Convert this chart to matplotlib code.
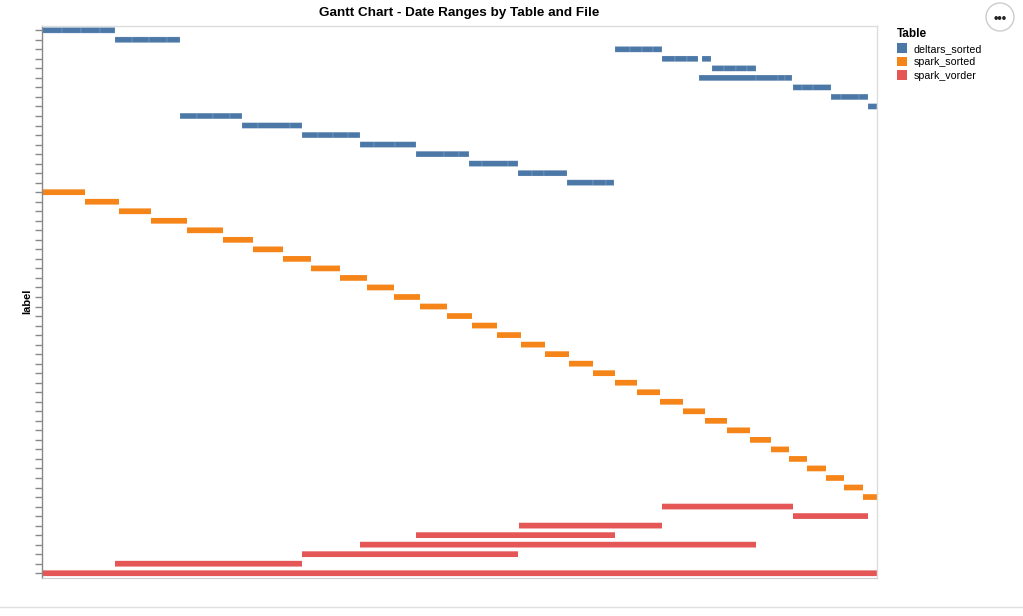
#!/usr/bin/env python3
"""Gantt chart of date ranges per table/file, vega-lite look."""
import matplotlib
matplotlib.use("Agg")
import matplotlib.pyplot as plt
from matplotlib.patches import Ellipse, Patch
from matplotlib.lines import Line2D

# time axis is in days from the first file's start (no x labels shown in the chart)
# deltars_sorted: (row, [segment boundaries]) -- several files share one row
deltars_rows = [0, 1, 2, 3, 3, 4, 5, 6, 7, 8, 9, 10, 11, 12, 13, 14, 15, 16]
deltars_bounds = [
    [0, 20, 39, 58, 73],
    [73, 90, 107, 125, 138],
    [573, 588, 600, 611, 620],
    [620, 633, 645, 656],
    [660, 669],
    [670, 682, 694, 705, 714],
    [657, 714, 736, 743, 750],
    [751, 760, 771, 789],
    [789, 799, 817, 826],
    [826, 835],
    [138, 155, 171, 188, 200],
    [200, 216, 248, 260],
    [260, 276, 291, 306, 318],
    [318, 332, 353, 374],
    [374, 402, 417, 427],
    [427, 440, 466, 476],
    [476, 490, 502, 525],
    [525, 551, 564, 572],
]

spark_sorted_rows = list(range(17, 50))
spark_sorted_start = [0, 43, 77, 109, 145, 181, 211, 241, 269, 298, 325, 352, 378,
                      405, 430, 455, 479, 503, 527, 551, 573, 595, 618, 641, 663,
                      685, 708, 729, 747, 765, 784, 802, 821]
spark_sorted_end = [43, 77, 109, 145, 181, 211, 241, 269, 298, 325, 352, 378, 405,
                    430, 455, 479, 503, 527, 551, 573, 595, 618, 641, 663, 685,
                    708, 729, 747, 765, 784, 802, 821, 835]

spark_vorder_rows = [50, 51, 52, 53, 54, 55, 56, 57]
spark_vorder_start = [620, 751, 477, 374, 318, 260, 73, 0]
spark_vorder_end = [751, 826, 620, 573, 714, 476, 260, 835]

n_rows = 58
tables = ["deltars_sorted", "spark_sorted", "spark_vorder"]
colors = {"deltars_sorted": "#4c78a8", "spark_sorted": "#f58518", "spark_vorder": "#e45756"}

W, H = 1023, 616
fig = plt.figure(figsize=(W / 100, H / 100), dpi=100)
plt.rcParams['font.family'] = ['Liberation Sans', 'DejaVu Sans']

left, right, top, bottom = 42, 877, 25.5, 578
ax = fig.add_axes([left / W, 1 - bottom / H, (right - left) / W, (bottom - top) / H])

bh = 0.6
for row, b in zip(deltars_rows, deltars_bounds):
    for s, e in zip(b[:-1], b[1:]):
        ax.barh(row, e - s, left=s, height=bh, color=colors["deltars_sorted"],
                edgecolor=(1, 1, 1, 0.25), linewidth=0.4, snap=False)
ax.barh(spark_sorted_rows, [e - s for s, e in zip(spark_sorted_start, spark_sorted_end)],
        left=spark_sorted_start, height=bh, color=colors["spark_sorted"], linewidth=0,
        snap=False)
ax.barh(spark_vorder_rows, [e - s for s, e in zip(spark_vorder_start, spark_vorder_end)],
        left=spark_vorder_start, height=bh, color=colors["spark_vorder"], linewidth=0,
        snap=False)

ax.set_xlim(0, 835)
ax.set_ylim(n_rows - 0.5, -0.5)
ax.set_yticks(range(n_rows))
ax.set_yticklabels([])
ax.set_xticks([])
ax.tick_params(axis="y", length=5, width=1, color="#888888")
for side in ["top", "right"]:
    ax.spines[side].set_color("#dddddd")
    ax.spines[side].set_linewidth(1)
ax.spines["bottom"].set_color("#cccccc")
ax.spines["left"].set_color("#888888")
ax.spines["left"].set_linewidth(1)
ax.set_ylabel("label", fontsize=8, fontweight="bold")
ax.yaxis.set_label_coords((32 - left) / (right - left), 0.5)

fig.text((left + right) / 2 / W, 1 - 13 / H, "Gantt Chart - Date Ranges by Table and File",
         ha="center", va="center", fontsize=9.7, fontweight="bold")

# legend
handles = [Patch(facecolor=colors[t], edgecolor="none") for t in tables]
leg = fig.legend(handles, tables, title="Table", loc="upper left",
                 bbox_to_anchor=(893 / W, 1 - 24 / H), frameon=False, fontsize=7.7,
                 title_fontproperties={"weight": "bold", "size": 8.5},
                 handlelength=0.95, handleheight=0.95, handletextpad=0.55,
                 labelspacing=0.3, borderaxespad=0, alignment="left")

# actions button and page rule
fig.add_artist(Ellipse((1000 / W, 1 - 17 / H), 28 / W, 28 / H, facecolor="white",
                       edgecolor="#cccccc", linewidth=1, transform=fig.transFigure))
fig.text(1000 / W, 1 - 19 / H, "•••", ha="center", va="center", fontsize=9,
         fontweight="bold", color="#222222")
fig.add_artist(Line2D([0, 1], [1 - 607 / H, 1 - 607 / H], color="#e0e0e0",
                      linewidth=1, transform=fig.transFigure))

fig.savefig("out.png", dpi=100)
